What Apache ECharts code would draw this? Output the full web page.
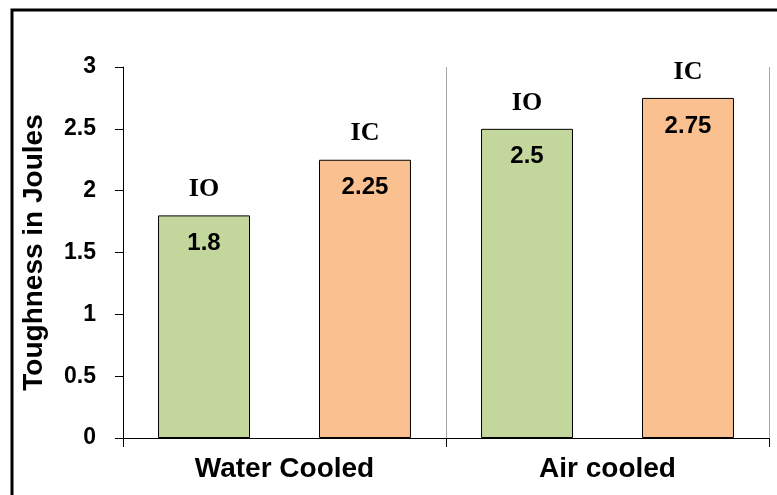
<!DOCTYPE html>
<html>
<head>
<meta charset="utf-8">
<script src="https://cdn.jsdelivr.net/npm/echarts@6/dist/echarts.min.js"></script>
<style>
  html, body { margin: 0; padding: 0; background: #fff; }
  #chart { width: 777px; height: 495px; }
</style>
</head>
<body>
<div id="chart"></div>
<script>
// Toughness (J) by cooling method, for IO and IC specimens
const categories = ['Water Cooled', 'Air cooled'];
const seriesNames = ['IO', 'IC'];
const ioValues = [1.8, 2.5];
const icValues = [2.25, 2.75];
const yMin = 0, yMax = 3, yStep = 0.5;

const colors = { IO: '#c3d69b', IC: '#fac090' };
const sans = '"Liberation Sans", Arial, sans-serif';
const serif = '"Liberation Serif", "Times New Roman", serif';

const barGap = '75%';
const barCategoryGap = '21.7%';

function valueSeries(name, values) {
  return {
    name: name,
    type: 'bar',
    xAxisIndex: 0,
    data: values,
    barGap: barGap,
    barCategoryGap: barCategoryGap,
    itemStyle: { color: colors[name], borderColor: '#000', borderWidth: 1 },
    label: {
      show: true,
      position: 'insideTop',
      distance: 16,
      fontFamily: sans,
      fontWeight: 'bold',
      fontSize: 24,
      color: '#000',
      formatter: p => String(p.value)
    },
    silent: true
  };
}

// transparent twins on a hidden axis carry the series-name labels above each bar
function nameSeries(name, values) {
  return {
    name: name + '-label',
    type: 'bar',
    xAxisIndex: 1,
    data: values,
    barGap: barGap,
    barCategoryGap: barCategoryGap,
    itemStyle: { color: 'rgba(0,0,0,0)' },
    label: {
      show: true,
      position: 'top',
      distance: 13,
      fontFamily: serif,
      fontWeight: 'bold',
      fontSize: 26,
      color: '#000',
      formatter: () => name
    },
    silent: true
  };
}

const chart = echarts.init(document.getElementById('chart'), null, { renderer: 'canvas' });
chart.setOption({
  animation: false,
  backgroundColor: '#fff',
  grid: { left: 123, right: 8, top: 67, bottom: 57 },
  graphic: [{
    type: 'rect',
    shape: { x: 12, y: 10, width: 820, height: 520 },
    style: { fill: null, stroke: '#000', lineWidth: 3 },
    silent: true
  }],
  xAxis: [{
    type: 'category',
    data: categories,
    axisLine: { lineStyle: { color: '#000', width: 1 } },
    axisTick: { show: true, length: 9, lineStyle: { color: '#000' } },
    splitLine: { show: true, lineStyle: { color: '#a6a6a6', width: 1 } },
    axisLabel: {
      margin: 17,
      fontFamily: sans,
      fontWeight: 'bold',
      fontSize: 28,
      color: '#000'
    }
  }, {
    type: 'category',
    data: categories,
    show: false
  }],
  yAxis: {
    type: 'value',
    min: yMin,
    max: yMax,
    interval: yStep,
    name: 'Toughness in Joules',
    nameLocation: 'middle',
    nameGap: 75,
    nameTextStyle: {
      fontFamily: sans,
      fontWeight: 'bold',
      fontSize: 28,
      color: '#000'
    },
    axisLine: { show: true, lineStyle: { color: '#000', width: 1 } },
    axisTick: { show: true, length: 8, lineStyle: { color: '#000' } },
    splitLine: { show: false },
    axisLabel: {
      margin: 27,
      fontFamily: sans,
      fontWeight: 'bold',
      fontSize: 23,
      color: '#000'
    }
  },
  series: [
    valueSeries(seriesNames[0], ioValues),
    valueSeries(seriesNames[1], icValues),
    nameSeries(seriesNames[0], ioValues),
    nameSeries(seriesNames[1], icValues)
  ]
});
</script>
</body>
</html>
